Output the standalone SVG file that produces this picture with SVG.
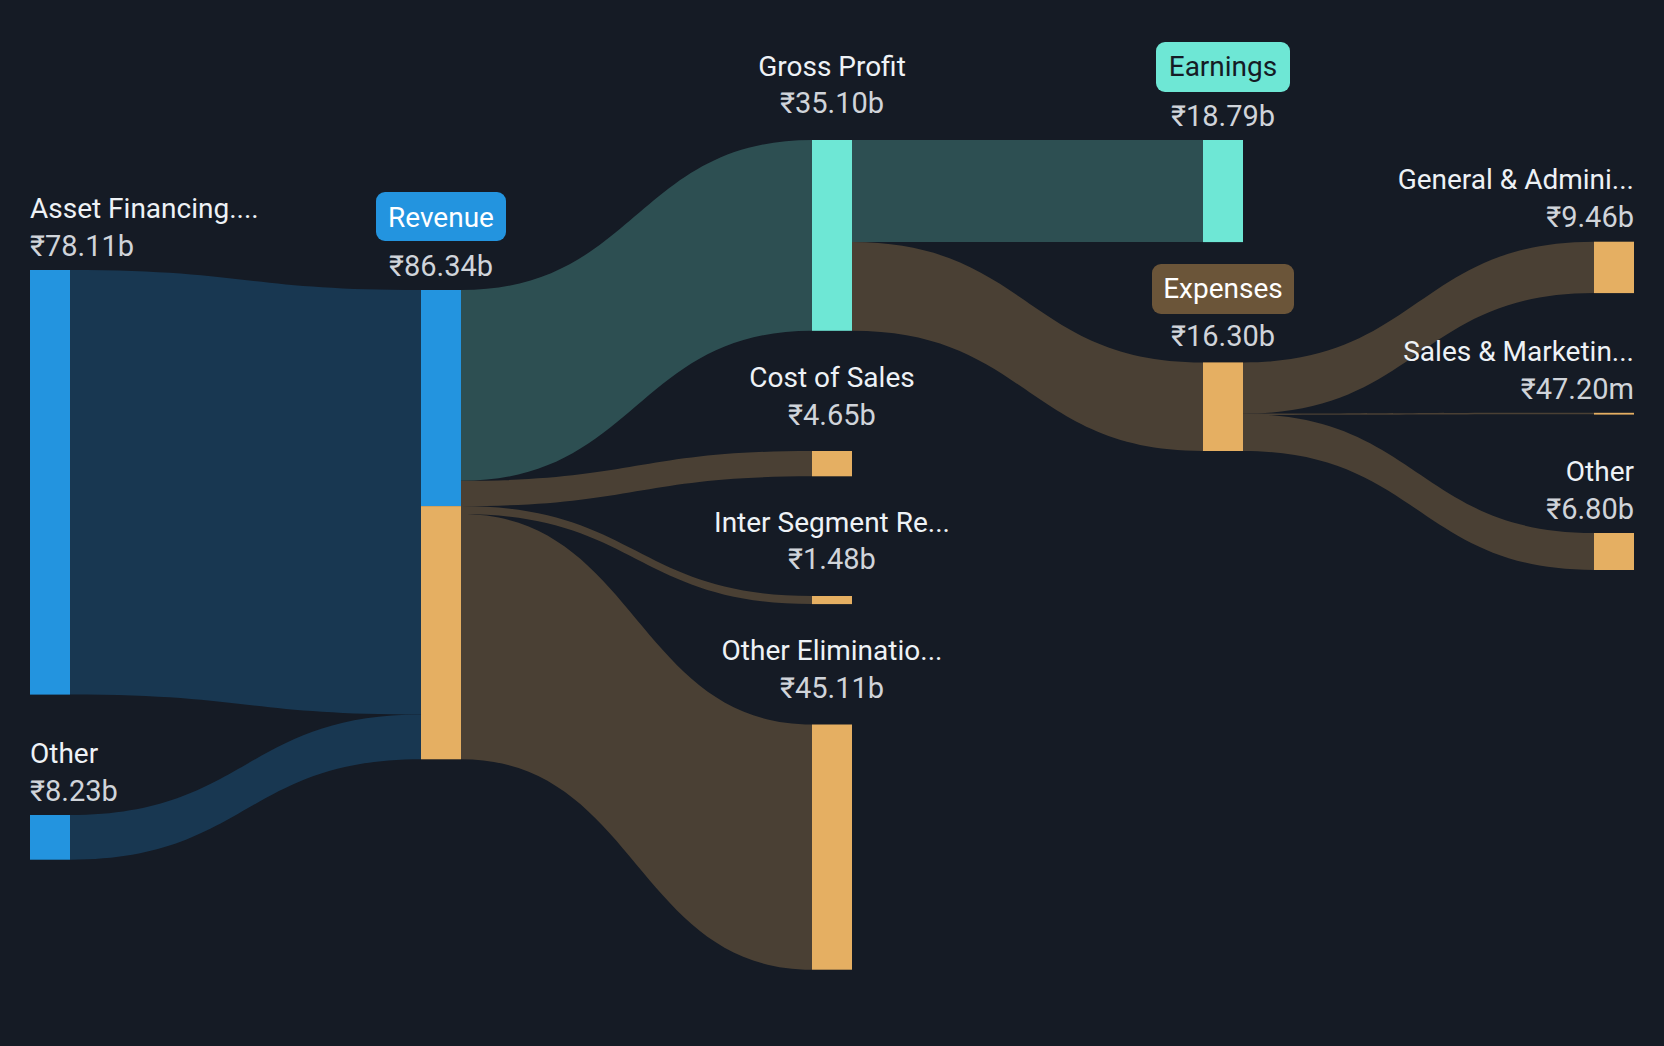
<svg xmlns="http://www.w3.org/2000/svg" width="1664" height="1046" viewBox="0 0 1664 1046">
<style>
.bg{fill:#151b25}
.nm{font-family:Roboto,"Liberation Sans",sans-serif;font-size:28px;fill:#eef2f6}
.vl{font-family:Roboto,"Liberation Sans",sans-serif;font-size:29px;fill:#d0d4da}
.blue{fill:#2394df}
.orange{fill:#e5af62}
.teal{fill:#6ee7d5}
.fblue{fill:#183751}
.fteal{fill:#2d4f52}
.fbrown{fill:#4a4034}
</style>
<rect class="bg" x="0" y="0" width="1664" height="1046"/>
<g id="connectors">
<path class="fblue" d="M70,270 C245.5,270 245.5,290 421,290 L421,714.6 C245.5,714.6 245.5,694.6 70,694.6 Z"/>
<path class="fblue" d="M70,815 C245.5,815 245.5,714.6 421,714.6 L421,759.3 C245.5,759.3 245.5,859.7 70,859.7 Z"/>
<path class="fteal" d="M461,290 C636.5,290 636.5,140 812,140 L812,330.8 C636.5,330.8 636.5,480.8 461,480.8 Z"/>
<path class="fbrown" d="M461,480.8 C636.5,480.8 636.5,451 812,451 L812,476.3 C636.5,476.3 636.5,506.1 461,506.1 Z"/>
<path class="fbrown" d="M461,506.1 C636.5,506.1 636.5,596 812,596 L812,604.1 C636.5,604.1 636.5,514.1 461,514.1 Z"/>
<path class="fbrown" d="M461,514.1 C636.5,514.1 636.5,724.5 812,724.5 L812,969.7 C636.5,969.7 636.5,759.3 461,759.3 Z"/>
<path class="fteal" d="M852,140 L1203,140 L1203,242.1 L852,242.1 Z"/>
<path class="fbrown" d="M852,242.1 C1027.5,242.1 1027.5,362.4 1203,362.4 L1203,451 C1027.5,451 1027.5,330.8 852,330.8 Z"/>
<path class="fbrown" d="M1243,362.4 C1418.5,362.4 1418.5,241.7 1594,241.7 L1594,293.1 C1418.5,293.1 1418.5,413.8 1243,413.8 Z"/>
<path class="fbrown" d="M1243,413.6 C1418.5,413.6 1418.5,412.8 1594,412.8 L1594,414.3 C1418.5,414.3 1418.5,415 1243,415 Z"/>
<path class="fbrown" d="M1243,414.1 C1418.5,414.1 1418.5,533 1594,533 L1594,570 C1418.5,570 1418.5,451 1243,451 Z"/>
</g>
<g id="node-asset">
<rect class="blue" x="30" y="270" width="40" height="424.6"/>
<text class="nm" x="30" y="218">Asset Financing....</text>
<text class="vl" x="30" y="256">₹78.11b</text>
</g>
<g id="node-other-left">
<rect class="blue" x="30" y="815" width="40" height="44.7"/>
<text class="nm" x="30" y="763">Other</text>
<text class="vl" x="30" y="801">₹8.23b</text>
</g>
<g id="node-revenue">
<rect class="blue" x="421" y="290" width="40" height="216.1"/>
<rect class="orange" x="421" y="506.1" width="40" height="253.2"/>
<rect class="blue" x="376" y="192" width="130" height="49" rx="9"/>
<text class="nm" x="441" y="227" text-anchor="middle" style="fill:#ffffff">Revenue</text>
<text class="vl" x="441" y="276" text-anchor="middle">₹86.34b</text>
</g>
<g id="node-gross-profit">
<rect class="teal" x="812" y="140" width="40" height="190.8"/>
<text class="nm" x="832" y="76" text-anchor="middle">Gross Profit</text>
<text class="vl" x="832" y="113" text-anchor="middle">₹35.10b</text>
</g>
<g id="node-cost-of-sales">
<rect class="orange" x="812" y="451" width="40" height="25.3"/>
<text class="nm" x="832" y="387" text-anchor="middle">Cost of Sales</text>
<text class="vl" x="832" y="425" text-anchor="middle">₹4.65b</text>
</g>
<g id="node-inter-segment">
<rect class="orange" x="812" y="596" width="40" height="8.1"/>
<text class="nm" x="832" y="532" text-anchor="middle">Inter Segment Re...</text>
<text class="vl" x="832" y="569" text-anchor="middle">₹1.48b</text>
</g>
<g id="node-other-eliminations">
<rect class="orange" x="812" y="724.5" width="40" height="245.2"/>
<text class="nm" x="832" y="660" text-anchor="middle">Other Eliminatio...</text>
<text class="vl" x="832" y="698" text-anchor="middle">₹45.11b</text>
</g>
<g id="node-earnings">
<rect class="teal" x="1203" y="140" width="40" height="102.1"/>
<rect class="teal" x="1156" y="42" width="134" height="50" rx="9"/>
<text class="nm" x="1223" y="76" text-anchor="middle" style="fill:#151b25">Earnings</text>
<text class="vl" x="1223" y="126" text-anchor="middle">₹18.79b</text>
</g>
<g id="node-expenses">
<rect class="orange" x="1203" y="362.4" width="40" height="88.6"/>
<rect x="1152" y="264" width="142" height="50" rx="9" fill="#6b5539"/>
<text class="nm" x="1223" y="298" text-anchor="middle" style="fill:#ffffff">Expenses</text>
<text class="vl" x="1223" y="346" text-anchor="middle">₹16.30b</text>
</g>
<g id="node-general-admin">
<rect class="orange" x="1594" y="241.7" width="40" height="51.4"/>
<text class="nm" x="1634" y="189" text-anchor="end">General &amp; Admini...</text>
<text class="vl" x="1634" y="227" text-anchor="end">₹9.46b</text>
</g>
<g id="node-sales-marketing">
<rect class="orange" x="1594" y="412.8" width="40" height="1.8"/>
<text class="nm" x="1634" y="361" text-anchor="end">Sales &amp; Marketin...</text>
<text class="vl" x="1634" y="399" text-anchor="end">₹47.20m</text>
</g>
<g id="node-other-right">
<rect class="orange" x="1594" y="533" width="40" height="37"/>
<text class="nm" x="1634" y="481" text-anchor="end">Other</text>
<text class="vl" x="1634" y="519" text-anchor="end">₹6.80b</text>
</g>
</svg>
